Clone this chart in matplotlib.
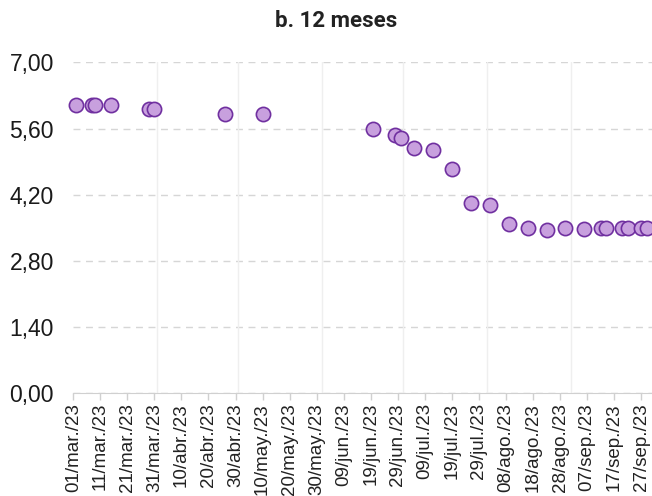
import matplotlib
matplotlib.use("Agg")
import matplotlib.pyplot as plt
import pandas as pd

# Data
dates = ["2023-03-02", "2023-03-08", "2023-03-09", "2023-03-15", "2023-03-29", "2023-03-31",
         "2023-04-26", "2023-05-10", "2023-06-20", "2023-06-28", "2023-06-30", "2023-07-05",
         "2023-07-12", "2023-07-19", "2023-07-26", "2023-08-02", "2023-08-09", "2023-08-16",
         "2023-08-23", "2023-08-30", "2023-09-06", "2023-09-12", "2023-09-14", "2023-09-20",
         "2023-09-22", "2023-09-27", "2023-09-29"]
values = [6.10, 6.10, 6.10, 6.10, 6.01, 6.01,
          5.90, 5.90, 5.60, 5.46, 5.40, 5.19,
          5.14, 4.74, 4.02, 3.98, 3.59, 3.49,
          3.45, 3.49, 3.47, 3.49, 3.49, 3.49,
          3.49, 3.49, 3.49]
y_ticks = [0.0, 1.4, 2.8, 4.2, 5.6, 7.0]
month_abbr = ["ene", "feb", "mar", "abr", "may", "jun", "jul", "ago", "sep", "oct", "nov", "dic"]
title = "b. 12 meses"

x = pd.to_datetime(dates)
x_ticks = pd.date_range("2023-03-01", "2023-09-30", freq="10D")
month_starts = pd.date_range("2023-04-01", "2023-09-30", freq="MS")

fig = plt.figure(figsize=(6.52, 4.96), dpi=100)
ax = fig.add_axes([0.1124, 0.207, 0.8876, 0.6674])

ax.scatter(x, values, s=105, facecolor="#c8a0de", edgecolor="#7030a0", linewidth=1.2,
           zorder=3, clip_on=False)

ax.set_xlim(pd.Timestamp("2023-03-01"), pd.Timestamp("2023-10-01"))
ax.set_ylim(0, 7.0)

ax.set_yticks(y_ticks)
ax.set_yticklabels([f"{v:.2f}".replace(".", ",") for v in y_ticks],
                   fontsize=16.5, family="Liberation Sans", color="#1a1a1a")
ax.set_xticks(x_ticks)
ax.set_xticklabels([f"{d.day:02d}/{month_abbr[d.month-1]}./{d.strftime('%y')}" for d in x_ticks],
                   rotation=90, fontsize=13.5, family="Liberation Sans", color="#222222")

ax.tick_params(axis="y", length=0, pad=14)
ax.tick_params(axis="x", length=5, width=1, color="#d0d0d0", pad=2)

for yv in y_ticks:
    ax.axhline(yv, color="#d6d6d6", lw=1, ls=(0, (5, 4)), zorder=1)
for m in month_starts:
    ax.axvline(m, color="#efefef", lw=1, zorder=1)

for s in ["top", "right", "left"]:
    ax.spines[s].set_visible(False)
ax.spines["bottom"].set_color("#d0d0d0")

fig.text(0.515, 0.958, title, ha="center", va="center", fontsize=16,
         fontweight="bold", family="Roboto", color="#222222")

fig.savefig("out.png", dpi=100)
